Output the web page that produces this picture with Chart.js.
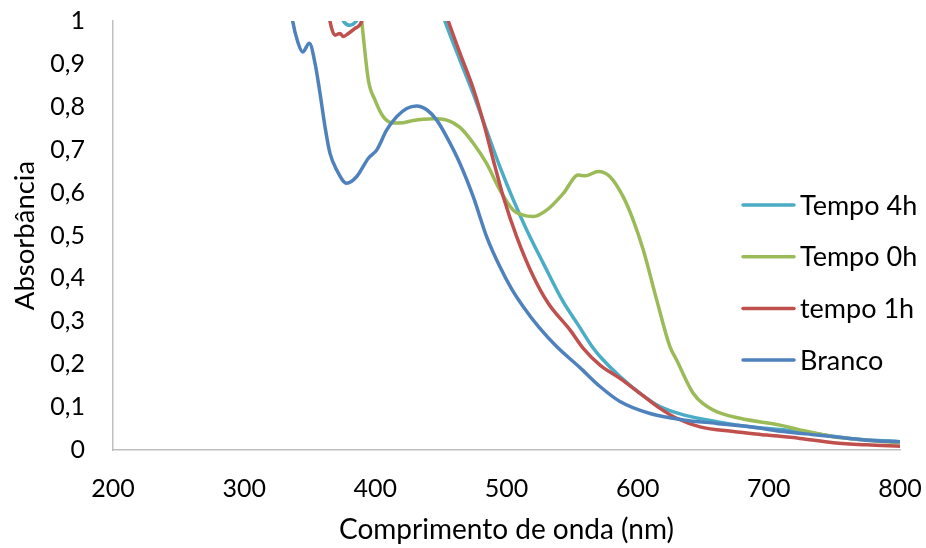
<!DOCTYPE html>
<html>
<head>
<meta charset="utf-8">
<script src="https://cdn.jsdelivr.net/npm/chart.js@4/dist/chart.umd.min.js"></script>
<style>
  html, body { margin: 0; padding: 0; background: #fff; }
  #wrap { width: 926px; height: 548px; }
</style>
</head>
<body>
<div id="wrap"><canvas id="espectro"></canvas></div>
<script>
// Espectros UV-Vis: absorbância x comprimento de onda

const tempo4h_nm  = [360, 370, 374, 377, 380.7, 384, 388, 395, 420, 440, 453, 464.5, 474.7, 484.8, 495, 505.2, 515.4, 528.1, 543.3, 555, 566.2, 571.3, 586.5, 601.8, 617, 634.8, 660.2, 685.6, 723.7, 761.9, 800];
const tempo4h_abs = [1.5, 1.2, 1.02, 0.995, 0.99, 0.995, 1.02, 1.2, 1.3, 1.12, 1.0, 0.909, 0.83, 0.745, 0.660, 0.583, 0.513, 0.435, 0.345, 0.29, 0.237, 0.218, 0.171, 0.132, 0.101, 0.082, 0.066, 0.054, 0.043, 0.027, 0.019];

const tempo0h_nm  = [380, 386, 389.6, 394.7, 399.7, 406, 413.6, 421.3, 428.9, 436.6, 444.2, 454.4, 464.5, 474.7, 484.8, 495, 505.2, 512, 520.4, 530.6, 543.3, 554.7, 559.8, 570, 578.9, 589, 596.6, 604.3, 614.5, 624.6, 629.7, 642.4, 657.6, 678, 708.5, 723.7, 749.1, 774.6, 800];
const tempo0h_abs = [1.3, 1.1, 1.0, 0.862, 0.816, 0.777, 0.762, 0.763, 0.768, 0.771, 0.772, 0.769, 0.752, 0.715, 0.668, 0.606, 0.559, 0.548, 0.544, 0.559, 0.598, 0.641, 0.639, 0.649, 0.637, 0.590, 0.536, 0.466, 0.350, 0.241, 0.210, 0.132, 0.093, 0.074, 0.058, 0.047, 0.031, 0.023, 0.017];

const tempo1h_nm  = [355, 362, 365.4, 369.3, 373, 375.6, 379.4, 384.5, 389.6, 395, 420, 445, 455.6, 464.5, 474.7, 482.3, 490, 497.6, 507.8, 520.4, 531.8, 548.4, 558.5, 571.3, 586.5, 601.8, 617, 629.7, 647.5, 672.9, 698.3, 723.7, 749.1, 774.6, 800];
const tempo1h_abs = [1.3, 1.08, 1.0, 0.967, 0.971, 0.964, 0.971, 0.983, 1.0, 1.1, 1.3, 1.1, 1.0, 0.925, 0.842, 0.765, 0.675, 0.590, 0.497, 0.405, 0.342, 0.280, 0.237, 0.198, 0.167, 0.132, 0.097, 0.074, 0.054, 0.043, 0.035, 0.027, 0.017, 0.012, 0.009];

const branco_nm  = [325, 333, 337, 341, 344.6, 349.7, 354, 357.8, 361.6, 365.4, 370.5, 378.1, 385.7, 394.7, 401, 408.7, 416.3, 423.9, 431.5, 439.2, 446.8, 454.4, 464.5, 474.7, 484.9, 495, 504, 512.8, 525, 538.2, 556, 571.3, 586.5, 609.4, 634.8, 660.2, 685.6, 711, 736.5, 761.9, 774.6, 800];
const branco_abs = [1.3, 1.1, 1.0, 0.95, 0.928, 0.948, 0.902, 0.832, 0.754, 0.692, 0.653, 0.622, 0.637, 0.680, 0.699, 0.746, 0.777, 0.796, 0.802, 0.793, 0.769, 0.730, 0.668, 0.590, 0.497, 0.427, 0.375, 0.334, 0.285, 0.241, 0.192, 0.148, 0.113, 0.085, 0.070, 0.062, 0.054, 0.043, 0.035, 0.027, 0.023, 0.019];

const seriesNames  = ['Tempo 4h', 'Tempo 0h', 'tempo 1h', 'Branco'];
const seriesColors = ['#4bacc6', '#9bbb59', '#c0504d', '#4f81bd'];

const xTicks = { min: 200, max: 800, step: 100 };
const yTicks = { min: 0, max: 1, step: 0.1 };

const FONT = 'Lato';
const pair = (xs, ys) => xs.map((x, i) => ({ x, y: ys[i] }));
const seriesData = [
    pair(tempo4h_nm, tempo4h_abs),
    pair(tempo0h_nm, tempo0h_abs),
    pair(tempo1h_nm, tempo1h_abs),
    pair(branco_nm, branco_abs)
];

// legenda desenhada sobre a área do gráfico, à direita
const legendaInterna = {
    id: 'legendaInterna',
    afterDraw(chart) {
        const ctx = chart.ctx;
        ctx.save();
        ctx.font = `27px ${FONT}`;
        ctx.textBaseline = 'middle';
        ctx.textAlign = 'left';
        ctx.lineCap = 'round';
        chart.data.datasets.forEach((ds, i) => {
            const y = 205 + i * 51.7;
            ctx.strokeStyle = ds.borderColor;
            ctx.lineWidth = 3.5;
            ctx.beginPath();
            ctx.moveTo(743, y);
            ctx.lineTo(794, y);
            ctx.stroke();
            ctx.fillStyle = '#000';
            ctx.fillText(ds.label, 800, y + 1);
        });
        ctx.restore();
    }
};

new Chart(document.getElementById('espectro'), {
    type: 'line',
    data: {
        datasets: seriesNames.map((name, i) => ({
            label: name,
            data: seriesData[i],
            borderColor: seriesColors[i],
            backgroundColor: seriesColors[i],
            borderWidth: 3.5,
            pointRadius: 0,
            cubicInterpolationMode: 'monotone',
            fill: false,
            clip: 0,
            order: seriesNames.length - i
        }))
    },
    options: {
        responsive: true,
        maintainAspectRatio: false,
        animation: false,
        layout: { padding: 0 },
        plugins: {
            legend: { display: false },
            tooltip: { enabled: false }
        },
        scales: {
            x: {
                type: 'linear',
                min: xTicks.min,
                max: xTicks.max,
                grid: { display: false, drawTicks: false },
                border: { display: true, color: '#bfbfbf', width: 1.5 },
                ticks: {
                    stepSize: xTicks.step,
                    padding: 24,
                    color: '#000',
                    font: { family: FONT, size: 25 },
                    maxRotation: 0
                },
                title: {
                    display: true,
                    text: 'Comprimento de onda (nm)',
                    color: '#000',
                    font: { family: FONT, size: 28 },
                    padding: { top: 0, bottom: 1 }
                },
                // margens fixas: área do gráfico termina em x = 900
                afterFit: s => {
                    s.height = 98;
                    s.paddingLeft = 0;
                    s.paddingRight = 26;
                }
            },
            y: {
                min: yTicks.min,
                max: yTicks.max,
                grid: { display: false, drawTicks: false },
                border: { display: true, color: '#bfbfbf', width: 1.5 },
                ticks: {
                    stepSize: yTicks.step,
                    padding: 28,
                    color: '#000',
                    font: { family: FONT, size: 25 },
                    callback: v => String(Math.round(v * 10) / 10).replace('.', ',')
                },
                title: {
                    display: true,
                    text: 'Absorbância',
                    color: '#000',
                    font: { family: FONT, size: 27.5 },
                    padding: { top: 9, bottom: 0 }
                },
                // topo da área em y = 21
                afterFit: s => {
                    s.width = 113;
                    s.paddingTop = 21;
                    s.paddingBottom = 0;
                }
            }
        }
    },
    plugins: [legendaInterna]
});
</script>
</body>
</html>
